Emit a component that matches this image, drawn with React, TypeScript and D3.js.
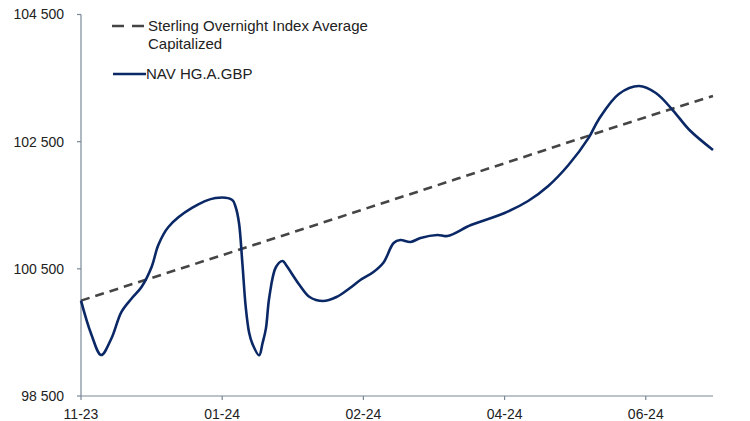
import React from "react";
import * as d3 from "d3";

// x is a point index (category axis), labels every 42 points
const tickIdx = [0, 42, 84, 126, 168];
const tickLabels = ["11-23", "01-24", "02-24", "04-24", "06-24"];
const lastIdx = 188;

const yTicks = [98500, 100500, 102500, 104500];

// SONIA capitalized (dashed)
const soniaIdx = [0, 42, 84, 126, 168, 188];
const soniaVal = [100000, 100715, 101435, 102160, 102885, 103220];

// NAV HG.A.GBP
const navIdx = [
  0, 3, 6, 9, 12, 15, 18, 21, 23, 26, 33, 40, 45, 46, 47, 48, 49, 50, 51, 53,
  54, 55, 56, 58, 60, 61, 65, 68, 72, 76, 80, 83, 87, 90, 93, 95, 98, 101, 106,
  109, 116, 126, 133, 139, 145, 151, 154, 160, 166, 171, 176, 181, 188,
];
const navVal = [
  100000, 99480, 99145, 99400, 99820, 100030, 100214, 100529, 100875, 101158,
  101457, 101614, 101583, 101472, 101221, 100592, 99900, 99500, 99320, 99140,
  99330, 99560, 100050, 100529, 100623, 100560, 100246, 100057, 99994, 100057,
  100199, 100320, 100450, 100600, 100906, 100953, 100922, 100985, 101032,
  101016, 101189, 101378, 101567, 101803, 102133, 102560, 102850, 103250,
  103375, 103265, 102998, 102683, 102369,
];

const fmt = (v: number) => d3.format(",")(v).replace(",", " ");

export default function App() {
  const width = 750;
  const height = 421;
  const x = d3.scaleLinear().domain([0, lastIdx]).range([81, 713]);
  const y = d3.scaleLinear().domain([98500, 104500]).range([396, 14.5]);

  const navPath = d3
    .line<[number, number]>()
    .x((d) => x(d[0]))
    .y((d) => y(d[1]))
    .curve(d3.curveCatmullRom.alpha(0.5))(
    navIdx.map((d, i) => [d, navVal[i]] as [number, number])
  );
  const soniaPath = d3
    .line<[number, number]>()
    .x((d) => x(d[0]))
    .y((d) => y(d[1]))
    .curve(d3.curveMonotoneX)(
    soniaIdx.map((d, i) => [d, soniaVal[i]] as [number, number])
  );

  const axisColor = "#7a8796";
  const font = "'Liberation Sans', Arial, sans-serif";

  return (
    <svg
      width={width}
      height={height}
      style={{ position: "absolute", left: 0, top: 0, background: "#fff" }}
      fontFamily={font}
    >
      {/* y axis */}
      <line x1={81} x2={81} y1={y(104500)} y2={396} stroke={axisColor} strokeWidth={1.2} />
      {yTicks.map((t) => (
        <g key={t}>
          <line x1={77} x2={81} y1={y(t)} y2={y(t)} stroke={axisColor} strokeWidth={1.2} />
          <text x={64} y={y(t)} dy="0.35em" textAnchor="end" fontSize={14} fill="#222">
            {fmt(t)}
          </text>
        </g>
      ))}
      {/* x axis */}
      <line x1={81} x2={713} y1={396} y2={396} stroke={axisColor} strokeWidth={1.2} />
      {tickIdx.map((t, i) => (
        <g key={t}>
          <line x1={x(t)} x2={x(t)} y1={396} y2={400} stroke={axisColor} strokeWidth={1.2} />
          <text x={x(t)} y={414} dy="0.35em" textAnchor="middle" fontSize={14} fill="#222">
            {tickLabels[i]}
          </text>
        </g>
      ))}

      <path
        d={soniaPath || ""}
        fill="none"
        stroke="#454545"
        strokeWidth={2.6}
        strokeDasharray="9 6"
      />
      <path d={navPath || ""} fill="none" stroke="#0b2866" strokeWidth={2.6} />

      {/* legend */}
      <line x1={112} x2={144} y1={26} y2={26} stroke="#454545" strokeWidth={2.6} strokeDasharray="12 8" />
      <text x={148} y={31} fontSize={15} fill="#222">
        Sterling Overnight Index Average
      </text>
      <text x={148} y={49} fontSize={15} fill="#222">
        Capitalized
      </text>
      <line x1={113} x2={146} y1={74} y2={74} stroke="#0b2866" strokeWidth={2.6} />
      <text x={146} y={79} fontSize={15} fill="#222">
        NAV HG.A.GBP
      </text>
    </svg>
  );
}
